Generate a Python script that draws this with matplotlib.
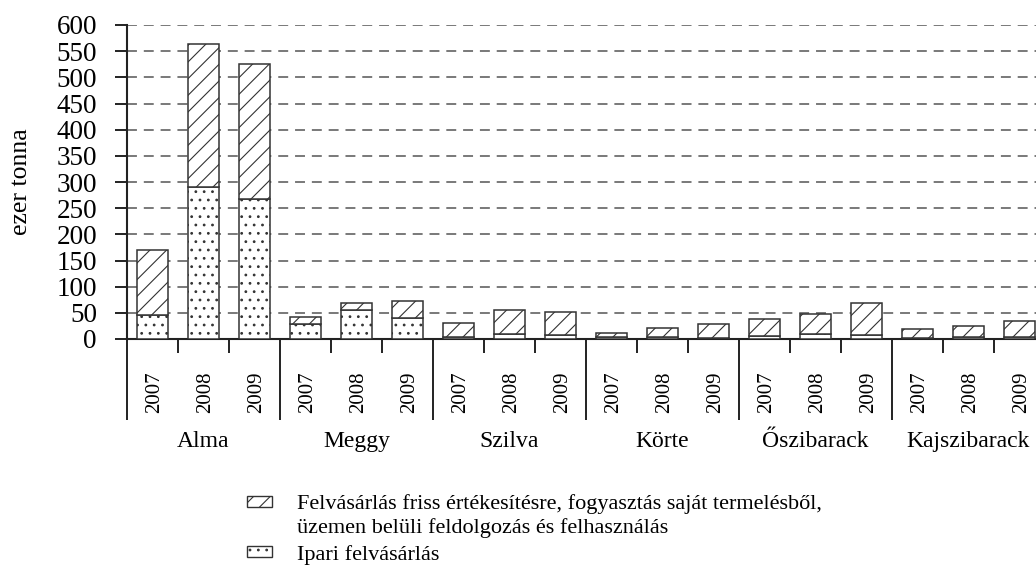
import numpy as np
import matplotlib
matplotlib.use('Agg')
import matplotlib.pyplot as plt
from matplotlib.patches import Rectangle

plt.rcParams['font.family'] = ['Liberation Serif', 'DejaVu Serif']
plt.rcParams['hatch.linewidth'] = 0.8

# Adatok (ezer tonna)
gyumolcsok = ['Alma', 'Meggy', 'Szilva', 'Körte', 'Őszibarack', 'Kajszibarack']
evek = ['2007', '2008', '2009']
ipari = [46, 290, 267,  29, 56, 40,  4, 10, 7,  3, 3, 2,  6, 10, 8,  2, 3, 4]
friss = [125, 274, 258,  13, 12, 33,  26, 45, 45,  8, 18, 26,  33, 38, 61,  18, 22, 30]
yticks = list(range(0, 601, 50))

lbl_friss = ('Felvásárlás friss értékesítésre, fogyasztás saját termelésből,\n'
             'üzemen belüli feldolgozás és felhasználás')
lbl_ipari = 'Ipari felvásárlás'

edge = '#333333'
fig = plt.figure(figsize=(10.36, 5.76), dpi=100)
# a tengely jobbra túlnyúlik a képen, mint az eredetin
ax = fig.add_axes([127 / 1036, 237 / 576, 918 / 1036, 314 / 576])

n = len(ipari)
x = np.arange(n)
w = 0.61
ax.bar(x, ipari, w, color='white', edgecolor=edge, linewidth=1.1,
       hatch='..', zorder=3)
ax.bar(x, friss, w, bottom=ipari, color='white', edgecolor=edge,
       linewidth=1.1, hatch='//', zorder=3)

ax.set_xlim(-0.5, n - 0.5)
ax.set_ylim(0, 600)
ax.set_yticks(yticks)
ax.tick_params(axis='y', direction='out', length=8.6, width=1.4,
               labelsize=19.5, pad=13, color='#222222')

# vízszintes szaggatott rácsvonalak
for v in yticks[1:]:
    ax.axhline(v, color='#555555', lw=1.1, ls=(0, (6.5, 4.5)), zorder=1)

# x tengely: csoporthatárok (hosszú) és évközi (rövid) jelölők
ax.set_xticks(np.arange(-0.5, n, 3))
ax.set_xticks([i + 0.5 for i in range(n - 1) if (i + 1) % 3 != 0], minor=True)
ax.tick_params(axis='x', which='major', direction='out', length=58,
               width=1.4, labelbottom=False, color='#222222')
ax.tick_params(axis='x', which='minor', direction='out', length=10,
               width=1.4, color='#222222')

for s in ['top', 'right']:
    ax.spines[s].set_visible(False)
for s in ['left', 'bottom']:
    ax.spines[s].set_linewidth(1.5)
    ax.spines[s].set_color('#222222')

tr = ax.get_xaxis_transform()
for i in range(n):
    ax.text(i + 0.05, -0.169, evek[i % 3], rotation=90, ha='center',
            va='center', fontsize=15, transform=tr)
for g, name in enumerate(gyumolcsok):
    ax.text(3 * g + 1, -0.325, name, ha='center', va='center',
            fontsize=17, transform=tr)

ax.set_ylabel('ezer tonna', fontsize=18.5)
ax.yaxis.set_label_coords(-0.103, 0.5)

# jelmagyarázat
def fx(px):
    return px / 1036

def fy(py):
    return 1 - py / 576

fig.add_artist(Rectangle((fx(247), fy(507)), 25 / 1036, 11 / 576,
                         transform=fig.transFigure, facecolor='white',
                         edgecolor=edge, linewidth=1.0, hatch='//'))
fig.add_artist(Rectangle((fx(247), fy(557)), 25 / 1036, 11 / 576,
                         transform=fig.transFigure, facecolor='white',
                         edgecolor=edge, linewidth=1.0, hatch='..'))
fig.text(fx(297), fy(494), lbl_friss, ha='left', va='top', fontsize=16,
         linespacing=1.28)
fig.text(fx(297), fy(545), lbl_ipari, ha='left', va='top', fontsize=16)

fig.savefig('out.png', dpi=100)
